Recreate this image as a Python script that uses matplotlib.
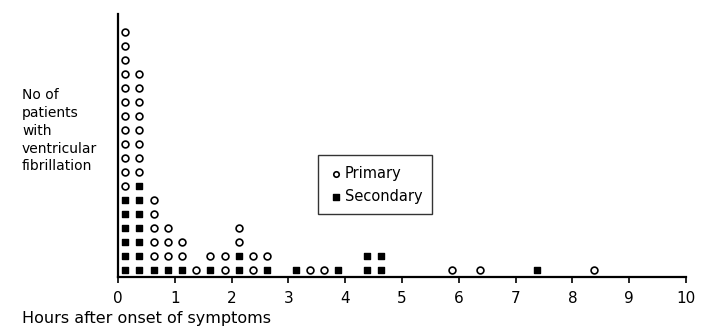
import numpy as np
import matplotlib
matplotlib.use("Agg")
import matplotlib.pyplot as plt

# quarter-hour bins (centre, hours)
hours = [0.125, 0.375, 0.625, 0.875, 1.125, 1.375, 1.625, 1.875, 2.125, 2.375,
         2.625, 3.125, 3.375, 3.625, 3.875, 4.375, 4.625, 5.875, 6.375, 7.375, 8.375]
# number of patients in each bin
primary = [12, 8, 5, 3, 2, 1, 1, 2, 2, 2, 1, 0, 1, 1, 0, 0, 0, 1, 1, 0, 1]
secondary = [6, 7, 1, 1, 1, 0, 1, 0, 2, 0, 1, 1, 0, 0, 1, 2, 2, 0, 0, 1, 0]

x_ticks = list(range(0, 11))

fig = plt.figure(figsize=(7.04, 3.29), dpi=100)
ax = fig.add_axes([118 / 704, 52 / 329, 568 / 704, 263 / 329])

# stack the dots: secondary at the bottom, primary on top
xs_sec, ys_sec, xs_pri, ys_pri = [], [], [], []
for h, p, s in zip(hours, primary, secondary):
    for k in range(s):
        xs_sec.append(h)
        ys_sec.append(k + 1)
    for k in range(p):
        xs_pri.append(h)
        ys_pri.append(s + k + 1)

ax.scatter(xs_pri, ys_pri, s=24, marker="o", facecolors="white",
           edgecolors="black", linewidths=1.2, label="Primary", zorder=3)
ax.scatter(xs_sec, ys_sec, s=24, marker="s", color="black",
           label="Secondary", zorder=3)

ax.set_xlim(0, 10)
ax.set_ylim(0.5, 19.3)
ax.set_xticks(x_ticks)
ax.set_xticklabels([str(t) for t in x_ticks], fontsize=11)
ax.set_yticks([])
ax.tick_params(axis="x", length=4, width=1.2, pad=6, direction="out")
for side in ["top", "right"]:
    ax.spines[side].set_visible(False)
ax.spines["left"].set_linewidth(1.6)
ax.spines["bottom"].set_linewidth(1.6)

leg = ax.legend(loc="upper left", bbox_to_anchor=(0.34, 0.49), fontsize=10.5,
                frameon=True, fancybox=False, edgecolor="black",
                handletextpad=0.1, borderpad=0.7, labelspacing=0.55,
                handlelength=1.0, markerscale=0.8)
leg.get_frame().set_linewidth(1.0)

fig.text(22 / 704, 1 - 88 / 329, "No of\npatients\nwith\nventricular\nfibrillation",
         ha="left", va="top", fontsize=10, linespacing=1.35)
fig.text(22 / 704, 1 - 318 / 329, "Hours after onset of symptoms",
         ha="left", va="center", fontsize=11.5)

fig.savefig("out.png", dpi=100)
